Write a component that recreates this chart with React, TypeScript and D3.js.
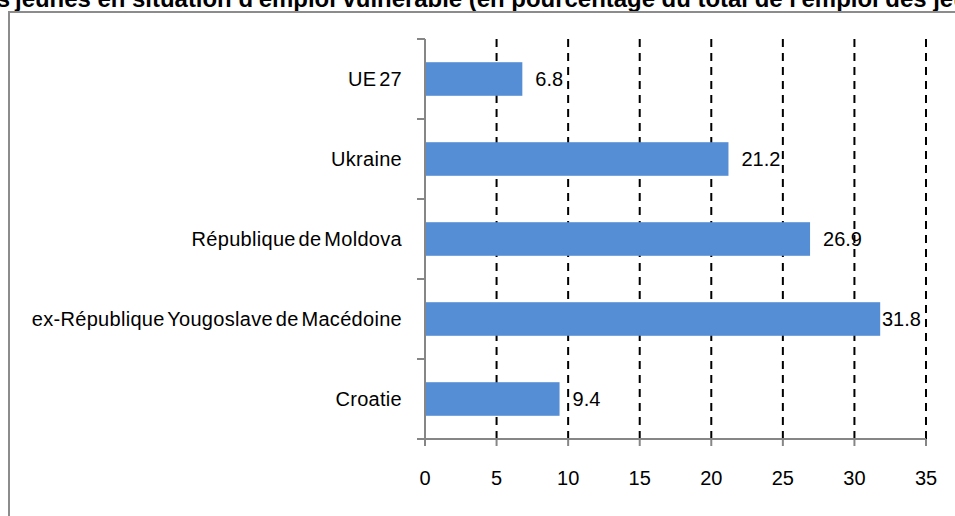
import React from "react";
import * as d3 from "d3";

const titlePrefix = "Part des ";
const titleMain = "jeunes en situation d'emploi vulnérable (en pourcentage du total de l'emploi des jeunes)";
const categories = ["UE 27", "Ukraine", "République de Moldova", "ex-République Yougoslave de Macédoine", "Croatie"];
const values = [6.8, 21.2, 26.9, 31.8, 9.4];
const valueLabels = ["6.8", "21.2", "26.9", "31.8", "9.4"];
const xTicks = [0, 5, 10, 15, 20, 25, 30, 35];

const W = 955;
const H = 516;
const FONT = "'Liberation Sans', Arial, sans-serif";

export default function App() {
  const x = d3.scaleLinear().domain([0, 35]).range([425, 926]);
  const y = d3.scaleBand().domain(categories).range([39, 439]).paddingInner(0.58).paddingOuter(0.29);
  const band = d3.scaleBand().domain(categories).range([39, 439]);
  const bounds = [39, ...categories.map((c) => (band(c) as number) + band.bandwidth())];

  return (
    <svg width={W} height={H} style={{ position: "absolute", left: 0, top: 0, background: "#fff" }}>
      <rect x={0} y={0} width={W} height={H} fill="#fff" />
      {/* title (partially cut, as in the reference) */}
      <text x={10} y={7} fontFamily={FONT} fontWeight="bold" fontSize={24} textAnchor="end" fill="#000">
        {titlePrefix}
      </text>
      <text x={15} y={7} fontFamily={FONT} fontWeight="bold" fontSize={24} fill="#000" textLength={1002} lengthAdjust="spacingAndGlyphs">
        {titleMain}
      </text>
      {/* frame */}
      <rect x={9} y={12} width={980} height={540} fill="none" stroke="#8c8c8c" strokeWidth={2} />
      {/* gridlines */}
      {xTicks.filter((t) => t > 0).map((t) => (
        <line key={"g" + t} x1={x(t)} x2={x(t)} y1={39} y2={439} stroke="#000" strokeWidth={2} strokeDasharray="8,6" />
      ))}
      {/* bars */}
      {categories.map((c, i) => (
        <rect key={"b" + c} x={x(0)} y={y(c)} width={x(values[i]) - x(0)} height={y.bandwidth()} fill="#558ed5" />
      ))}
      {/* value labels */}
      {categories.map((c, i) => {
        const lx = Math.min(x(values[i]) + 13, x(35) - 44);
        return (
          <text key={"v" + c} x={lx} y={(y(c) as number) + y.bandwidth() / 2} dy="0.35em" fontFamily={FONT} fontSize={20} fill="#000">
            {valueLabels[i]}
          </text>
        );
      })}
      {/* y axis */}
      <line x1={x(0)} x2={x(0)} y1={39} y2={439} stroke="#868686" strokeWidth={2} />
      {bounds.map((b, i) => (
        <line key={"yt" + i} x1={417} x2={x(0)} y1={b} y2={b} stroke="#868686" strokeWidth={2} />
      ))}
      {categories.map((c) => (
        <text key={"l" + c} x={402} y={(band(c) as number) + band.bandwidth() / 2} dy="0.35em" textAnchor="end" fontFamily={FONT} fontSize={20} wordSpacing={-3} letterSpacing={0.3} fill="#000">
          {c}
        </text>
      ))}
      {/* x axis */}
      <line x1={417} x2={x(35)} y1={439} y2={439} stroke="#868686" strokeWidth={2} />
      {xTicks.map((t) => (
        <g key={"xt" + t}>
          <line x1={x(t)} x2={x(t)} y1={439} y2={446} stroke="#868686" strokeWidth={2} />
          <text x={x(t)} y={478} dy="0.35em" textAnchor="middle" fontFamily={FONT} fontSize={20} fill="#000">
            {t}
          </text>
        </g>
      ))}
    </svg>
  );
}
